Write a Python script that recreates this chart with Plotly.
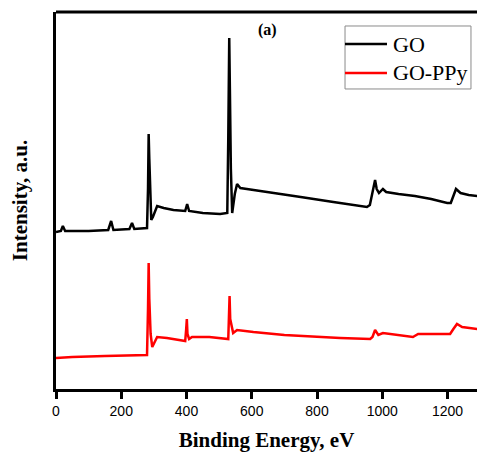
import plotly.graph_objects as go

# Binding energy (eV) and intensity (a.u.)
go_energy = [0, 15, 21, 28, 100, 160, 169, 176, 225, 233, 240, 279, 282, 284, 286, 289, 292,
             297, 310, 330, 360, 396, 402, 408, 450, 503, 525, 528, 531, 533, 536, 540,
             548, 555, 565, 585, 650, 750, 850, 953, 962, 970, 978, 983, 990, 1002, 1012,
             1050, 1100, 1150, 1199, 1210, 1218, 1226, 1240, 1265, 1291]
go_intensity = [157, 158, 163, 158, 158, 159, 168, 159, 160, 166, 160, 161, 200, 255, 230, 190, 169,
                172, 183, 181, 179, 178, 185, 178, 176, 175, 176, 250, 351, 300, 220, 176,
                195, 205, 201, 200, 197, 192, 187, 182, 184, 195, 209, 200, 196, 200, 197,
                195, 193, 190, 186, 186, 193, 200, 196, 194, 193]

ppy_energy = [0, 50, 150, 240, 279, 282, 284, 286, 290, 295, 310, 340, 370, 396, 399, 401,
              403, 408, 417, 470, 528, 530, 532, 534, 543, 555, 605, 700, 800, 871, 963,
              970, 978, 988, 1002, 1050, 1094, 1110, 1160, 1208, 1218, 1229, 1245, 1270, 1291]
ppy_intensity = [31, 32, 33, 34, 34, 80, 126, 90, 55, 42, 52, 51, 49, 48, 60, 70,
                 55, 50, 52, 52, 50, 70, 93, 70, 56, 59, 57, 54, 52, 51, 50,
                 52, 59, 54, 56, 54, 52, 55, 55, 55, 60, 65, 62, 61, 60]

x_ticks = [0, 200, 400, 600, 800, 1000, 1200]
series_names = ["GO", "GO-PPy"]
series_colors = ["black", "#ff0000"]

fig = go.Figure()
fig.add_trace(go.Scatter(x=go_energy, y=go_intensity, mode="lines", name=series_names[0],
                         showlegend=False, line=dict(color=series_colors[0], width=2.5)))
fig.add_trace(go.Scatter(x=ppy_energy, y=ppy_intensity, mode="lines", name=series_names[1],
                         showlegend=False, line=dict(color=series_colors[1], width=2.5)))

# legend drawn by hand (paper coordinates)
lx0, lx1, ly0, ly1 = 0.6865, 0.9857, 0.7958, 0.9629
row_y = [0.9151, 0.8382]
shapes = [
    dict(type="line", xref="paper", yref="paper", x0=0, x1=1, y0=1, y1=1,
         line=dict(color="black", width=3)),
    dict(type="rect", xref="paper", yref="paper", x0=lx0, x1=lx1, y0=ly0, y1=ly1,
         fillcolor="white", line=dict(color="#8a8a8a", width=1)),
]
annotations = [
    dict(text="<b>(a)</b>", xref="paper", yref="paper", x=0.503, y=0.953,
         xanchor="center", yanchor="middle", showarrow=False,
         font=dict(family="Liberation Serif", size=16, color="black")),
]
for name, col, yy in zip(series_names, series_colors, row_y):
    shapes.append(dict(type="line", xref="paper", yref="paper", x0=lx0, x1=0.7862, y0=yy, y1=yy,
                       line=dict(color=col, width=2.5)))
    annotations.append(dict(text=name, xref="paper", yref="paper", x=0.795, y=yy,
                            xanchor="left", yanchor="middle", showarrow=False,
                            font=dict(family="Liberation Serif", size=22, color="black")))

fig.update_layout(
    width=477, height=454,
    margin=dict(l=56, r=0, t=12, b=65, pad=0),
    plot_bgcolor="white", paper_bgcolor="white",
    showlegend=False,
    xaxis=dict(range=[0, 1290.4], tickvals=x_ticks, showgrid=False, zeroline=False,
               showline=True, linecolor="black", linewidth=3,
               ticks="outside", ticklen=7, tickwidth=3, tickcolor="black",
               tickfont=dict(family="Liberation Sans", size=14, color="black"),
               title=dict(text="<b>Binding Energy, eV</b>", standoff=15,
                          font=dict(family="Liberation Serif", size=21, color="black"))),
    yaxis=dict(range=[0, 377], showticklabels=False, ticks="", showgrid=False, zeroline=False,
               showline=True, linecolor="black", linewidth=3,
               title=dict(text="<b>Intensity, a.u.</b>", standoff=20,
                          font=dict(family="Liberation Serif", size=21, color="black"))),
    shapes=shapes,
    annotations=annotations,
)

fig.write_html("out.html", config={"displayModeBar": False},
               post_script="document.body.style.margin='0';document.body.style.overflow='hidden';")
